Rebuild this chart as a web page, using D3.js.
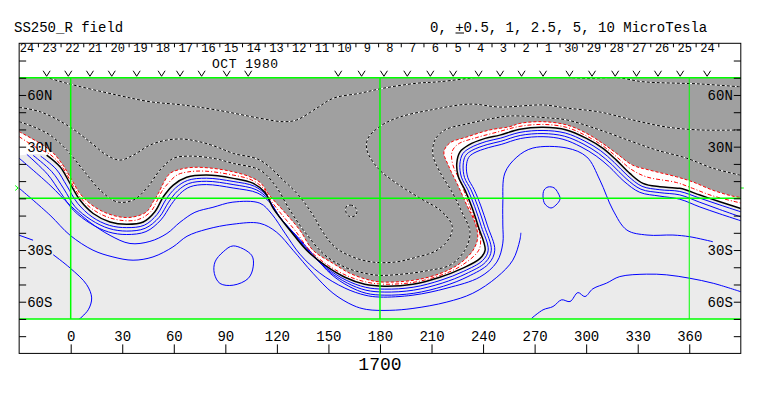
<!DOCTYPE html>
<html>
<head>
<meta charset="utf-8">
<script src="https://cdnjs.cloudflare.com/ajax/libs/d3/7.8.5/d3.min.js"></script>
<style>
  body { margin: 0; background: #fff; }
  text { font-family: "Liberation Mono", "DejaVu Sans Mono", monospace; fill: #000; }
</style>
</head>
<body>
<div id="chart"></div>
<script>
// axis values
let lonTicks = [0, 30, 60, 90, 120, 150, 180, 210, 240, 270, 300, 330, 360]
let latTicks = [-80, -70, -60, -50, -40, -30, -20, -10, 0, 10, 20, 30, 40, 50, 60, 70, 80]
let latLabels = { '60': '60N', '30': '30N', '-30': '30S', '-60': '60S' }
let dayLabels = [24, 23, 22, 21, 20, 19, 18, 17, 16, 15, 14, 13, 12, 11, 10, 9, 8, 7, 6, 5, 4, 3, 2, 1, 30, 29, 28, 27, 26, 25, 24]
let dayLon0 = -25.4      // carrington longitude of the first day label
let degPerDay = 13.2
let obsLons = [-14, -1.4, 11.2, 23.9, 38.4, 52.9, 63.6, 76.2, 90.8, 103.3, 155.7, 169.3, 182.3, 195.9, 209.3,
  222.6, 237.4, 249.9, 262.4, 274.9, 290.3, 303.4, 316.9, 329.3, 341.8, 354.7, 370.4]
let earthLat = 6
let gridLons = [0, 180, 360]
let gridLats = [-70, 0, 70]

// contours, [lon, lat]
let neutralEdge = [[-30,38.7],[-12,28],[-5.2,20.3],[-0.4,12.5],[5.4,2.8],[11.2,-3],[19,-7.8],[28.7,-10.8],[36.4,-10.8],[44.2,-7.8],[48,-2],[51,2.8],[53.9,8.7],[57.8,14.5],[63.6,16.8],[71.3,18],[83,17.4],[94.6,15.4],[104.3,12.5],[110.5,9],[115.5,2],[123.5,-6.9],[133.4,-18.5],[141,-30.1],[152.6,-37.7],[162.5,-43.5],[172.2,-47],[179.9,-48.5],[199.3,-47.6],[214.8,-43.7],[226.5,-37.8],[234.2,-30.1],[236.9,-22.6],[235.2,-13.8],[230.5,-3.9],[225.3,7.7],[220,18.7],[217.2,26.9],[220.6,32.1],[230.5,35.6],[243.9,39.7],[255.5,41.6],[261.4,43.5],[274.7,44.5],[288.7,42.6],[300.3,37.7],[309.6,31.9],[317.7,26.1],[327,19.3],[336.9,16.4],[352.6,12.5],[361.9,9.6],[373.5,4.8],[385.2,1.3],[390,0.5]]

let redInner = [[-30,35.8],[-20,29.5],[-12,25.5],[-5.7,19.3],[-0.4,10.6],[5.4,0.9],[12,-5.8],[21,-10.7],[30.5,-12.9],[39.3,-12.3],[46.5,-7.8],[50.5,-1],[53,4],[56.5,8.5],[62,13.6],[68,15.3],[78,15.8],[94.6,13.5],[105,10.8],[112,6],[117,-2],[125,-12],[130.5,-18.5],[139,-30.1],[150,-39],[161,-45],[171.7,-48.5],[181.4,-49.8],[199.2,-48.8],[214.8,-44.8],[227,-39.3],[237.5,-30.1],[238.5,-22.6],[236.3,-15.2],[232,-4.4],[227.4,8.5],[222.4,19.5],[221.9,26.9],[225.5,31.5],[236,35.2],[248,38.4],[261.4,41.8],[274.8,42.9],[288.6,41.2],[300.2,36.2],[309.7,30.5],[317.6,24.2],[326,17],[335,12.5],[352.5,9.2],[362,5.8],[373.5,1.5],[390,-2.7]]

let zeroLine = [[-14,25.1],[-6.2,18.3],[-0.4,8.7],[5.4,-1],[13.1,-8.8],[22.9,-13.7],[32.6,-15],[42.2,-13.7],[49,-7.8],[53.9,0.9],[59.7,7.7],[67.5,12.2],[79.1,13.5],[94.6,11.6],[106,8.8],[113,3.5],[118,-6],[127.6,-18.5],[137.3,-30.1],[147.9,-38.8],[159.6,-45.8],[171.2,-49.9],[182.8,-51],[199.1,-49.9],[214.8,-45.8],[227.6,-40.8],[238.1,-35],[241.2,-30.1],[237.3,-16.6],[233.4,-4.9],[229.5,4.8],[225.6,12.5],[224.7,20.3],[226.6,27],[231.5,30.9],[241.2,34.8],[249.7,36.7],[261.4,40.1],[274.9,41.2],[288.5,39.7],[300.2,34.8],[309.8,29],[317.6,22.2],[325.4,14.5],[333.1,8.7],[342.9,6.7],[354.5,5.8],[366.2,1.9],[377.8,-2],[390,-5.9]]

let neg1 = [[-15,70.5],[-2.3,66.8],[26.8,60],[46.1,56.1],[65.3,54.2],[84.9,51.3],[110.1,46.5],[123.7,44.5],[131.5,45.5],[143.1,52.3],[152.8,58.1],[168.3,61],[181.8,63.9],[201.3,66.8],[214.8,67.7],[239.8,70.6],[257.3,72],[273,72],[287.6,70.3],[302.2,69.7],[318.5,70],[333,67.7],[366.2,66.4],[390,64.7]]

let neg2 = [[-30,52.8],[-17.9,50.3],[-2.3,42.6],[11.2,32.8],[20.9,25.1],[28.7,22.2],[36.4,25.1],[46.1,30.9],[55.8,33.8],[65.5,34.4],[75.2,32.8],[84.9,29.9],[94.6,26.1],[110.1,22.2],[123.7,10.6],[133.4,0.9],[141,-9.7],[146.8,-19.6],[153.8,-28.3],[164.3,-34.1],[175.9,-37],[188.7,-37],[199.2,-34.7],[213.2,-30.1],[220.7,-22.5],[221.9,-15.5],[214.9,-6.8],[203.3,0.1],[188.7,9.4],[178.8,17.5],[172.4,28],[173,34.9],[181.1,42.5],[191.6,47.2],[209,51.2],[232.4,54.7],[249.8,53],[274.8,54.2],[288.8,52.4],[308,50.1],[327.1,45.5],[346.9,41.4],[366.1,39.7],[390,39.7]]

let neg3 = [[-30,44.5],[-21.8,41.6],[-12,36.7],[-2.3,28],[7.3,16.4],[17.1,4.8],[26.8,-2],[36.4,-1],[44.2,5.8],[52,16.4],[59.7,23.2],[69.4,24.5],[83,23.2],[94.6,20.3],[110.1,16.4],[118.9,7.7],[127.6,-6.9],[136.4,-19.7],[148,-33],[159.7,-40],[171.3,-43.5],[180,-44.7],[197.5,-43.5],[209.1,-41.7],[220.7,-38.8],[229.4,-30.1],[232.4,-19.6],[227.7,-8],[221.9,3.7],[214.9,15.3],[210.8,25.2],[212,33.9],[217.8,39.7],[230.6,43.2],[244,46.1],[255.6,47.8],[278.9,46.6],[288.8,45.5],[308,39.7],[327.1,32.8],[341.1,28],[358.5,23.3],[373.7,17.5],[390,13.4]]

let negLoop = [[160.2,-5.1],[162.6,-3.9],[165.5,-5.1],[166.6,-8],[164.9,-10.4],[162,-10.4],[160.2,-8]]

let pos1 = [[-17.5,24.5],[-8.5,17],[-2.2,7.2],[4,-2.8],[12.5,-10.8],[22.6,-15.7],[32.6,-17],[42.8,-15.6],[50.3,-9.3],[55.5,-0.6],[61,6],[68,10.4],[79,11.7],[94.5,9.8],[107,7],[114,1.5],[119.5,-8],[129,-19.7],[138.8,-31.3],[149,-40.5],[160.3,-47.5],[171.5,-51.6],[182.8,-52.7],[199.3,-51.6],[215.5,-47.5],[228.8,-42.3],[239.8,-36],[243,-30.1],[239,-16.4],[235.1,-4.8],[231.2,4.9],[227.4,12.3],[226.5,19.8],[228.2,25.9],[232.5,29.3],[241.8,33],[250,34.9],[261.5,38.3],[274.9,39.4],[287.9,37.9],[299.2,33.2],[308.5,27.6],[316.3,20.9],[324.3,13],[332.5,7],[342.9,5],[354.5,4],[366.2,0.1],[377.8,-3.8],[390,-7.8]]

let pos2 = [[-21.9,25],[-11,15.5],[-4,5.5],[2.5,-4.8],[12,-12.6],[22.3,-17.5],[32.6,-19],[43.3,-17.4],[51.5,-11],[57,-2.2],[62.3,4.4],[68.7,8.6],[79,9.9],[94.5,8],[108,5],[115,-0.5],[121,-10],[130.5,-21],[140.3,-32.5],[150.2,-42.2],[161,-49.2],[171.8,-53.3],[182.8,-54.4],[199.5,-53.3],[216.2,-49.2],[230,-43.8],[241.5,-37],[244.8,-30.1],[240.8,-16.2],[236.9,-4.6],[233,5],[229.2,12.1],[228.4,19.3],[229.8,24.8],[233.5,27.8],[242.4,31.2],[250.3,33.1],[261.6,36.5],[274.9,37.6],[287.3,36.1],[298.2,31.6],[307.2,26.1],[315,19.6],[323.2,11.5],[331.9,5.3],[342.9,3.3],[354.5,2],[366.2,-2.3],[377.8,-6.5],[390,-10.8]]

let pos3 = [[-25.5,25.5],[-13.5,14],[-6,3.5],[1.5,-6.8],[11.5,-14.6],[22,-19.5],[32.6,-21],[43.8,-19.3],[52.5,-12.5],[58.5,-3.6],[63.6,2.7],[69.5,6.7],[79,8],[94.5,6],[109,3],[116.5,-3],[122.5,-12],[132,-22.3],[142,-33.7],[151.4,-43.9],[161.8,-51],[172,-55.1],[182.8,-56.2],[199.7,-55.1],[217,-51],[231.2,-45.4],[243.2,-38],[246.8,-30.1],[242.6,-16],[238.7,-4.4],[234.8,5.1],[231.2,11.9],[230.3,18.7],[231.6,23.7],[234.7,26.3],[243,29.4],[250.6,31.3],[261.7,34.7],[274.9,35.8],[286.5,34.3],[297,29.9],[305.8,24.6],[313.6,18.2],[322,9.9],[331.2,3.5],[342.9,1.3],[354.5,-0.5],[366.2,-5],[377.8,-9],[390,-13]]

let pos4 = [[-30,23.3],[-12,7.6],[-0.4,-4],[11.2,-13.9],[22.9,-21.5],[34.5,-26.2],[46.1,-25],[56,-20.4],[63.6,-13.9],[72.3,-8.1],[82.8,-5.2],[94.4,-2.2],[110.1,-2.8],[117.1,-9.2],[124.7,-20.2],[133.4,-32.4],[145,-43.4],[159.6,-52.1],[171.3,-56.2],[180,-57.3],[199.2,-56.2],[219,-52.1],[238.1,-45.7],[248,-37],[251.5,-26],[251.5,-15.5],[251.5,-2.7],[252.7,14.7],[259.7,24],[269,29.2],[288.8,29.2],[300.4,24],[308,10.6],[315.6,-6.8],[323.7,-18.4],[335.4,-21.3],[350.5,-21.3],[360.4,-22.3],[373.8,-25.2]]

let pos5 = [[-30,5.9],[-12,-9.8],[-0.4,-21.4],[13,-30.1],[24.6,-34],[36.3,-35.9],[47.9,-34],[59.5,-28.2],[67.7,-22],[79.3,-17.9],[94.4,-15],[110.1,-14.5],[119.9,-19.7],[129.4,-30.1],[141,-43.5],[152.7,-55.1],[164.3,-62.1],[172.3,-64.5],[185.8,-65],[199.2,-63.9],[218.9,-60.2],[234,-55.1],[248,-45.8],[257.3,-35.9],[261.4,-24.3],[262,-20]]

let pos6 = [[-10.2,-32.7],[-0.4,-40.4],[9.3,-50.1],[12.2,-57.8],[10.2,-64.7],[4,-71]]
let pos7 = [[-30,-21.4],[-21.9,-24.3]]
let pos8 = [[268.3,-69.6],[274.9,-64.7],[280.7,-62.8],[285.7,-58.9],[290.6,-59.9],[295.2,-54.7],[299.3,-57],[303.9,-52.5],[311.9,-49.2],[319.6,-45.4],[335.2,-44],[346.8,-44.4],[360.4,-46.4],[374,-49.3],[390,-54.2]]
let posLoop1 = [[94.6,-27.6],[105.3,-33],[106.2,-39.8],[103.3,-46.5],[94.6,-50.4],[86.9,-49.4],[83.6,-43.6],[84,-36.9],[88.8,-31]]
let posLoop2 = [[277.8,6.6],[281.3,6.1],[283.6,3.2],[284.8,-0.4],[282.4,-3.9],[279.5,-5.6],[276,-3.3],[274.9,0.8],[275.5,4.8]]

let width = 763
let height = 396

let svg = d3.select('#chart').append('svg')
  .attr('width', width)
  .attr('height', height)

let x = d3.scaleLinear().domain([-30, 390]).range([19.15, 740.8])
let y = d3.scaleLinear().domain([-90, 90]).range([353.4, 43.3])

let line = d3.line()
  .x(function(d) { return x(d[0]) })
  .y(function(d) { return y(d[1]) })
  .curve(d3.curveCatmullRom.alpha(0.5))
let loop = d3.line()
  .x(function(d) { return x(d[0]) })
  .y(function(d) { return y(d[1]) })
  .curve(d3.curveCatmullRomClosed.alpha(0.5))

svg.append('clipPath').attr('id', 'map-clip')
  .append('rect')
    .attr('x', x(-30)).attr('y', y(70))
    .attr('width', x(390) - x(-30)).attr('height', y(-70) - y(70))

let map = svg.append('g').attr('clip-path', 'url(#map-clip)')

// background fills
map.append('rect')
  .attr('x', x(-30)).attr('y', y(70))
  .attr('width', x(390) - x(-30)).attr('height', y(-70) - y(70))
  .attr('fill', '#ebebeb')

map.append('path')
  .attr('d', line([[-32, 24.5]].concat(zeroLine, [[394, -5.9], [394, 76], [-32, 76]])) + 'Z')
  .attr('fill', '#ffffff')

map.append('path')
  .attr('d', line(neutralEdge.concat([[394, 0.5], [394, 76], [-32, 76], [-32, 38.7]])) + 'Z')
  .attr('fill', '#a0a0a0')

// negative contours: black dashes on white
for (let c of [neg1, neg2, neg3]) {
  map.append('path').attr('d', line(c))
    .attr('fill', 'none').attr('stroke', '#fff').attr('stroke-width', 1)
  map.append('path').attr('d', line(c))
    .attr('fill', 'none').attr('stroke', '#000').attr('stroke-width', 1)
    .attr('stroke-dasharray', '3,2')
}
map.append('path').attr('d', loop(negLoop))
  .attr('fill', 'none').attr('stroke', '#fff').attr('stroke-width', 1)
map.append('path').attr('d', loop(negLoop))
  .attr('fill', 'none').attr('stroke', '#000').attr('stroke-width', 1)
  .attr('stroke-dasharray', '3,2')

// positive contours
for (let c of [pos1, pos2, pos3, pos4, pos5, pos6, pos7, pos8]) {
  map.append('path').attr('d', line(c))
    .attr('fill', 'none').attr('stroke', '#0000ff').attr('stroke-width', 1)
}
for (let c of [posLoop1, posLoop2]) {
  map.append('path').attr('d', loop(c))
    .attr('fill', 'none').attr('stroke', '#0000ff').attr('stroke-width', 1)
}

// +-0.5 and zero
map.append('path').attr('d', line(neutralEdge))
  .attr('fill', 'none').attr('stroke', '#ff0000').attr('stroke-width', 1)
  .attr('stroke-dasharray', '3,2')
map.append('path').attr('d', line(redInner))
  .attr('fill', 'none').attr('stroke', '#ff0000').attr('stroke-width', 1)
  .attr('stroke-dasharray', '4,2,1,2')
map.append('path').attr('d', line(zeroLine))
  .attr('fill', 'none').attr('stroke', '#000').attr('stroke-width', 1.5)

// green grid
for (let lat of gridLats) {
  svg.append('line')
    .attr('x1', x(-30)).attr('x2', x(390))
    .attr('y1', y(lat)).attr('y2', y(lat))
    .attr('stroke', '#00ff00').attr('stroke-width', 1.5)
}
for (let lon of gridLons) {
  svg.append('line')
    .attr('x1', x(lon)).attr('x2', x(lon))
    .attr('y1', y(70)).attr('y2', y(-70))
    .attr('stroke', '#00ff00').attr('stroke-width', lon === 360 ? 1 : 1.5)
}
svg.append('path')
  .attr('d', `M${x(-30) - 4},${y(earthLat) - 2.5}L${x(-30) - 1},${y(earthLat)}L${x(-30) - 4},${y(earthLat) + 2.5}`)
  .attr('fill', 'none').attr('stroke', '#00ff00')
svg.append('line')
  .attr('x1', x(390)).attr('x2', x(390) + 3)
  .attr('y1', y(earthLat)).attr('y2', y(earthLat))
  .attr('stroke', '#00ff00')

// frame
svg.append('rect')
  .attr('x', x(-30)).attr('y', y(90))
  .attr('width', x(390) - x(-30)).attr('height', y(-90) - y(90))
  .attr('fill', 'none').attr('stroke', '#000').attr('stroke-width', 1)

// longitude axis on the bottom frame
let lonAxis = svg.append('g')
  .attr('transform', `translate(0, ${y(-90)})`)
  .call(d3.axisTop(x).tickValues(lonTicks).tickSize(9).tickPadding(3).tickSizeOuter(0))
lonAxis.select('.domain').remove()
lonAxis.selectAll('text').style('font-size', '14px').style('font-family', '"Liberation Mono", monospace')

// latitude axes
let latFormat = function(d) { return latLabels[d] || '' }
let leftAxis = svg.append('g')
  .attr('transform', `translate(${x(-30)}, 0)`)
  .call(d3.axisRight(y).tickValues(latTicks).tickSize(7).tickPadding(1).tickFormat(latFormat).tickSizeOuter(0))
let rightAxis = svg.append('g')
  .attr('transform', `translate(${x(390)}, 0)`)
  .call(d3.axisLeft(y).tickValues(latTicks).tickSize(7).tickPadding(1).tickFormat(latFormat).tickSizeOuter(0))
for (let a of [leftAxis, rightAxis]) {
  a.select('.domain').remove()
  a.selectAll('text').style('font-size', '14px').style('font-family', '"Liberation Mono", monospace')
}

// day labels along the top
svg.append('g').selectAll('text')
  .data(dayLabels)
  .enter().append('text')
    .attr('x', function(d, i) { return x(dayLon0 + i * degPerDay) })
    .attr('y', 52)
    .attr('text-anchor', 'middle')
    .style('font-size', '12px')
    .text(function(d) { return d })
svg.append('g').selectAll('line')
  .data(d3.range(dayLabels.length + 1))
  .enter().append('line')
    .attr('x1', function(i) { return x(dayLon0 + (i - 0.5) * degPerDay) })
    .attr('x2', function(i) { return x(dayLon0 + (i - 0.5) * degPerDay) })
    .attr('y1', y(90)).attr('y2', y(90) + 4)
    .attr('stroke', '#000')
    .filter(function(i) { return dayLon0 + (i - 0.5) * degPerDay < -30 || dayLon0 + (i - 0.5) * degPerDay > 390 }).remove()

svg.append('text')
  .attr('x', 212).attr('y', 67.5)
  .style('font-size', '13px')
  .attr('textLength', 66)
  .text('OCT 1980')

// observation marks
svg.append('g').selectAll('path')
  .data(obsLons)
  .enter().append('path')
    .attr('d', function(d) { return `M${x(d) - 3.5},${y(70) - 7}L${x(d)},${y(70) - 1.5}L${x(d) + 3.5},${y(70) - 7}` })
    .attr('fill', 'none').attr('stroke', '#000').attr('stroke-width', 1)

// titles
svg.append('text')
  .attr('x', 14).attr('y', 31.5)
  .style('font-size', '14px')
  .text('SS250_R field')
svg.append('text')
  .attr('x', 430).attr('y', 31.5)
  .style('font-size', '14px')
  .text('0, +0.5, 1, 2.5, 5, 10 MicroTesla')
svg.append('line')
  .attr('x1', 455.5).attr('x2', 464).attr('y1', 33).attr('y2', 33)
  .attr('stroke', '#000')
svg.append('text')
  .attr('x', x(180)).attr('y', 370)
  .attr('text-anchor', 'middle')
  .style('font-size', '18px')
  .text('1700')
</script>
</body>
</html>
